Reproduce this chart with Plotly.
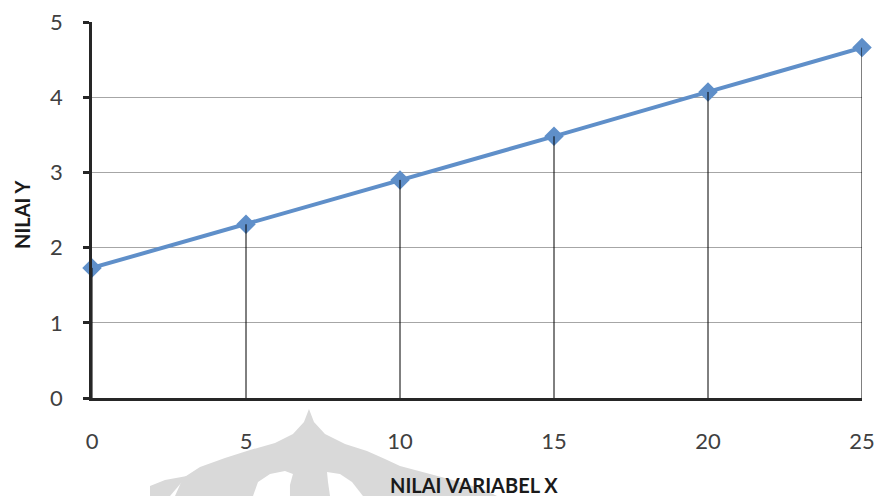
import plotly.graph_objects as go

# Data
x_vals = [0, 5, 10, 15, 20, 25]
y_vals = [1.73, 2.31, 2.90, 3.48, 4.07, 4.66]
x_ticks = [0, 5, 10, 15, 20, 25]
y_ticks = [0, 1, 2, 3, 4, 5]
x_title = "NILAI VARIABEL X"
y_title = "NILAI Y"

W, H = 875, 496
M_L, M_R, M_T, M_B = 92, 13, 22, 98

FONT = "Lato, 'Open Sans', sans-serif"
SERIES = "#5f8fc9"
AXIS = "#262626"

fig = go.Figure()

fig.add_trace(go.Scatter(
    x=x_vals, y=y_vals, mode="lines+markers",
    line=dict(color=SERIES, width=4),
    marker=dict(symbol="diamond", size=15, color=SERIES),
    showlegend=False, hoverinfo="skip", cliponaxis=False,
))

# Drop lines from each point down to the x axis
drop_x, drop_y = [], []
for xv, yv in zip(x_vals, y_vals):
    drop_x += [xv, xv, None]
    drop_y += [yv, 0, None]
fig.add_trace(go.Scatter(
    x=drop_x, y=drop_y, mode="lines",
    line=dict(color="#000000", width=1),
    showlegend=False, hoverinfo="skip",
))

# Light grey emblem beneath the axis labels (pixel outline -> paper coords)
pw, ph = W - M_L - M_R, H - M_T - M_B


def to_paper(pts):
    return [((px - M_L) / pw, (H - M_B - py) / ph) for px, py in pts]


def path_from(pts):
    p = to_paper(pts)
    return "M " + " L ".join(f"{a:.4f},{b:.4f}" for a, b in p) + " Z"


dome = [(309, 409), (314, 422), (325, 434), (345, 444), (367, 451), (385, 459),
        (400, 466), (430, 474), (460, 482), (485, 490), (497, 496),
        (175, 496), (183, 478), (200, 467), (225, 458), (250, 450),
        (275, 443), (293, 434), (304, 422)]
lobe = [(187, 476), (170, 496), (150, 496), (150, 486), (165, 480)]
gap1 = [(253, 496), (258, 482), (270, 474), (285, 471), (293, 474), (290, 485), (290, 496)]
gap2 = [(330, 496), (328, 482), (327, 472), (340, 474), (352, 482), (363, 496)]

shapes = []
for pts, col in [(dome, "#d9d9d9"), (lobe, "#d9d9d9"), (gap1, "#ffffff"), (gap2, "#ffffff")]:
    shapes.append(dict(type="path", xref="paper", yref="paper", path=path_from(pts),
                       fillcolor=col, line=dict(width=0), layer="below"))

fig.update_layout(
    width=W, height=H,
    margin=dict(l=M_L, r=M_R, t=M_T, b=M_B, autoexpand=False),
    paper_bgcolor="white", plot_bgcolor="white",
    font=dict(family=FONT, color="#404040"),
    shapes=shapes,
    xaxis=dict(
        range=[0, 25], tickvals=x_ticks, ticktext=[str(t) for t in x_ticks],
        showgrid=False, zeroline=False, automargin=False,
        showline=True, linecolor=AXIS, linewidth=2.5,
        ticks="outside", ticklen=22, tickcolor="rgba(0,0,0,0)",
        tickfont=dict(size=22, color="#404040"),
    ),
    yaxis=dict(
        range=[0, 5], tickvals=y_ticks, ticktext=[str(t) for t in y_ticks],
        showgrid=True, gridcolor="#a6a6a6", gridwidth=1, zeroline=False, automargin=False,
        showline=True, linecolor=AXIS, linewidth=2.5,
        ticks="outside", ticklen=6, tickwidth=2.5, tickcolor=AXIS,
        ticklabelstandoff=16,
        tickfont=dict(size=22, color="#404040"),
    ),
    annotations=[
        dict(text=f"<b>{x_title}</b>", xref="paper", yref="paper",
             x=(474 - M_L) / pw, y=(H - M_B - 485) / ph, xanchor="center", yanchor="middle",
             showarrow=False, font=dict(size=20, color="#1a1a1a", family=FONT)),
        dict(text=f"<b>{y_title}</b>", xref="paper", yref="paper",
             x=(22 - M_L) / pw, y=(H - M_B - 214) / ph, xanchor="center", yanchor="middle",
             textangle=-90, showarrow=False, font=dict(size=20, color="#1a1a1a", family=FONT)),
    ],
)

fig.write_html("out.html")
